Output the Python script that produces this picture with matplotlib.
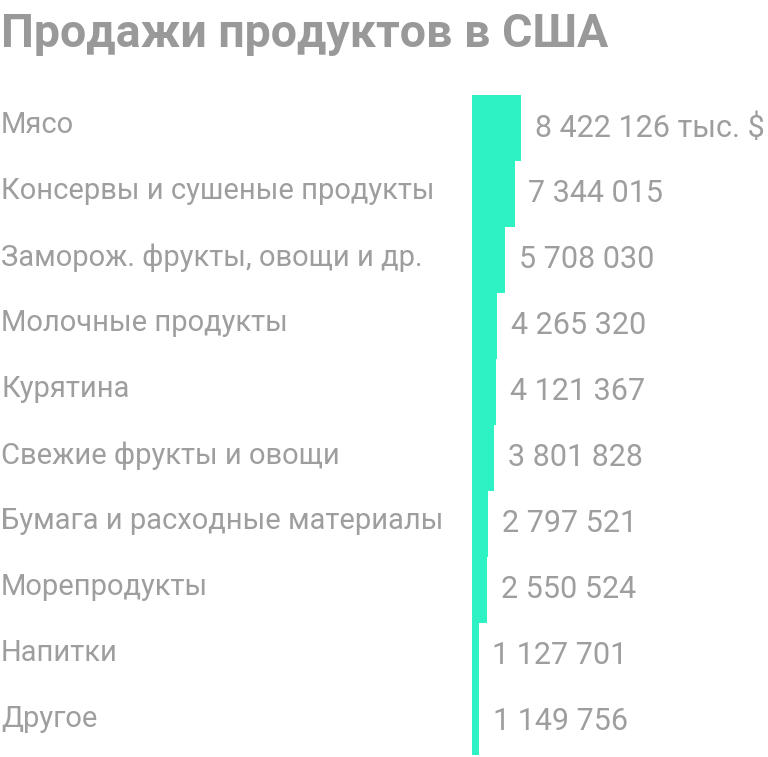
import matplotlib
matplotlib.use("Agg")
import matplotlib.pyplot as plt
from matplotlib.transforms import blended_transform_factory

title = "Продажи продуктов в США"
categories = ["Мясо", "Консервы и сушеные продукты", "Заморож. фрукты, овощи и др.",
              "Молочные продукты", "Курятина", "Свежие фрукты и овощи",
              "Бумага и расходные материалы", "Морепродукты", "Напитки", "Другое"]
values = [8422126, 7344015, 5708030, 4265320, 4121367, 3801828,
          2797521, 2550524, 1127701, 1149756]
unit = " тыс. $"

plt.rcParams['font.family'] = ['Roboto', 'DejaVu Sans']
W, H = 768, 757
fig = plt.figure(figsize=(W / 100, H / 100), dpi=100)
fig.patch.set_facecolor("white")

ax_left = 472 / W
ax_bottom = 2 / H
ax_top = (H - 95) / H
ax = fig.add_axes([ax_left, ax_bottom, 1 - ax_left, ax_top - ax_bottom])
ax.axis("off")

n = len(values)
ypos = list(range(n))
ax.barh(ypos, values, height=1.0, color="#2ff2c4", left=0)
ax.set_ylim(n - 0.5, -0.5)
ax.set_xlim(0, 296 / 5.8 * 1e6)

grey = "#9e9e9e"
trans = blended_transform_factory(fig.transFigure, ax.transData)
for i, (c, v) in enumerate(zip(categories, values)):
    ax.text(1 / W, i - 0.04, c, transform=trans, ha="left", va="center",
            fontsize=21, color=grey)
    s = f"{v:,}".replace(",", " ")
    if i == 0:
        s += unit
    ax.annotate(s, xy=(v, i), xytext=(10, 0), textcoords="offset points",
                ha="left", va="center", fontsize=22, color=grey)

fig.text(1 / W, 1 - 34 / H, title, ha="left", va="center", fontsize=33.5,
         fontweight="bold", color="#999999")

fig.savefig("out.png", dpi=100, facecolor="white")
